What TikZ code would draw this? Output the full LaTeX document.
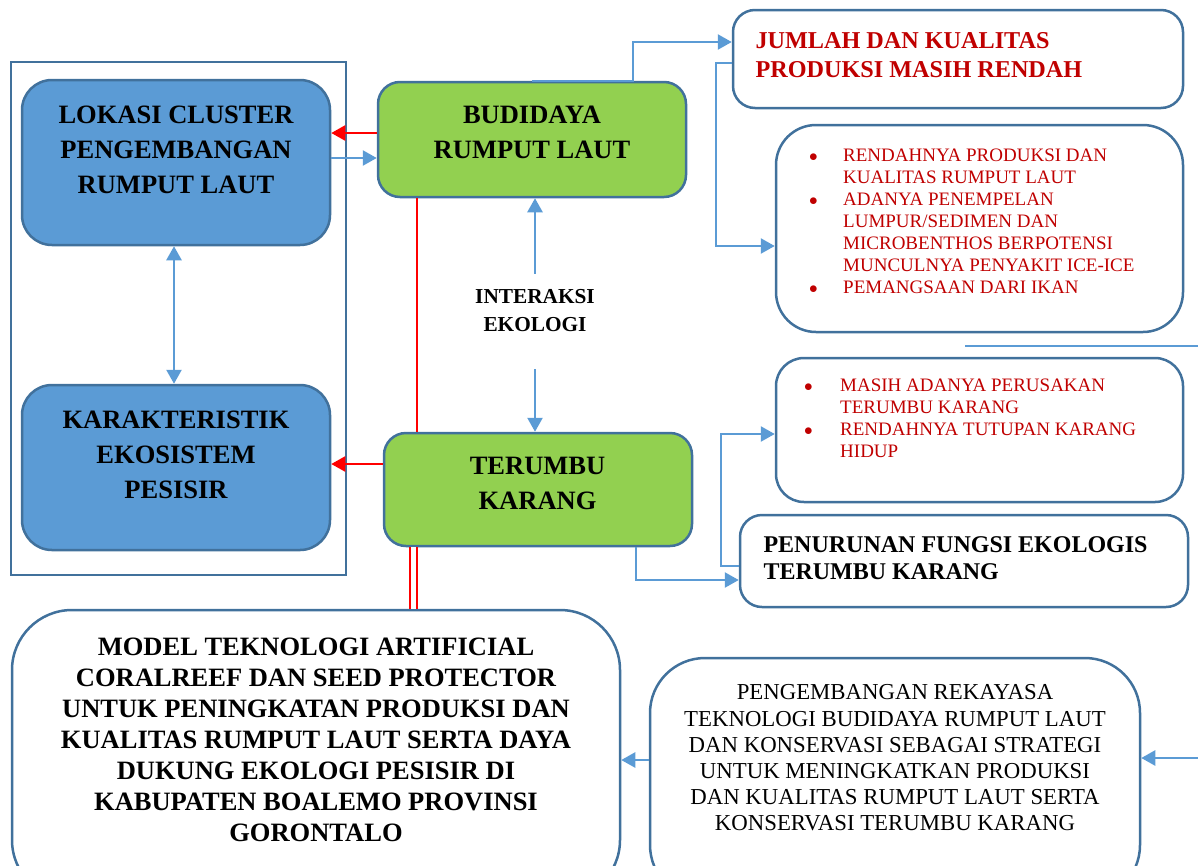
\documentclass[tikz,border=0pt]{standalone}
\usepackage{fontspec}
\setmainfont{Liberation Serif}
\usetikzlibrary{arrows.meta, positioning}
\definecolor{boxblue}{RGB}{91, 155, 213}
\definecolor{edgeblue}{RGB}{65, 113, 156}
\definecolor{boxgreen}{RGB}{146, 208, 80}
\definecolor{textred}{RGB}{192, 0, 0}

\begin{document}
\begin{tikzpicture}[x=1pt, y=-1pt,
        % Shared look of the boxes
        box/.style={draw=edgeblue, line width=2.5pt, inner sep=0pt},
        bluebox/.style={box, fill=boxblue, rounded corners=30pt, minimum width=308pt, minimum height=165pt},
        greenbox/.style={box, fill=boxgreen, rounded corners=22pt, minimum width=308pt},
        whitebox/.style={box, fill=white},
        % Texts
        title/.style={font=\bfseries\fontsize{26.5}{35}\selectfont, align=center},
        redtitle/.style={font=\bfseries\fontsize{24.2}{29}\selectfont, text=textred, align=left, anchor=west},
        bullets/.style={font=\fontsize{19}{22}\selectfont, text=textred, anchor=west, inner sep=0pt},
        % Connectors
        blueline/.style={draw=boxblue, line width=2.5pt},
        bluearrow/.style={blueline, -{Triangle[length=14pt, width=15pt]}},
        redline/.style={draw=red, line width=2.5pt},
        redarrow/.style={redline, -{Triangle[length=14pt, width=15pt]}}
    ]

    \useasboundingbox (0,0) rectangle (1198,865);
    \clip (0,0) rectangle (1198,865);

    % Left group
    \node[draw=edgeblue, line width=2pt, minimum width=335pt, minimum height=513pt] (frame) at (178.5,318.5) {};
    \node[bluebox] (lokasi) at (176,162.5) {};
    \node[title] (lokasitext) at (176,150) {LOKASI CLUSTER\\PENGEMBANGAN\\RUMPUT LAUT};
    \node[bluebox] (karakter) at (176,467.5) {};
    \node[title] (karaktertext) at (176,455) {KARAKTERISTIK\\EKOSISTEM\\PESISIR};

    % Middle column
    \node[greenbox, minimum height=115pt] (budidaya) at (532,139.5) {};
    \node[title] (budidayatext) at (532,132) {BUDIDAYA\\RUMPUT LAUT};
    \node[greenbox, minimum height=113pt] (terumbu) at (538,489.5) {};
    \node[title] (terumbutext) at (537.5,483) {TERUMBU\\KARANG};
    \node[font=\bfseries\fontsize{21.3}{28}\selectfont, align=center, inner xsep=2pt, inner ysep=16pt] (interaksi) at (535,311) {INTERAKSI\\EKOLOGI};

    % Right column
    \node[whitebox, rounded corners=22pt, minimum width=450pt, minimum height=98pt] (jumlah) at (958,59) {};
    \node[redtitle] (jumlahtext) at (752,55) {JUMLAH DAN KUALITAS\\PRODUKSI MASIH RENDAH};
    \node[whitebox, rounded corners=40pt, minimum width=407pt, minimum height=207pt] (masalaha) at (979.5,228.5) {};
    \node[bullets] (masalahatext) at (809,223) {%
        \begin{tabular}{@{}p{34pt}@{}l@{}}
            $\bullet$ & RENDAHNYA PRODUKSI DAN\\
                      & KUALITAS RUMPUT LAUT\\
            $\bullet$ & ADANYA PENEMPELAN\\
                      & LUMPUR/SEDIMEN DAN\\
                      & MICROBENTHOS BERPOTENSI\\
                      & MUNCULNYA PENYAKIT ICE-ICE\\
            $\bullet$ & PEMANGSAAN DARI IKAN
        \end{tabular}};
    \node[whitebox, rounded corners=28pt, minimum width=407pt, minimum height=144pt] (masalahb) at (979.5,430) {};
    \node[bullets] (masalahbtext) at (804,420) {%
        \begin{tabular}{@{}p{36pt}@{}l@{}}
            $\bullet$ & MASIH ADANYA PERUSAKAN\\
                      & TERUMBU KARANG\\
            $\bullet$ & RENDAHNYA TUTUPAN KARANG\\
                      & HIDUP
        \end{tabular}};
    \node[whitebox, rounded corners=22pt, minimum width=448pt, minimum height=92pt] (penurunan) at (964,561) {};
    \node[font=\bfseries\fontsize{24}{27}\selectfont, align=left, anchor=west] (penurunantext) at (760,558) {PENURUNAN FUNGSI EKOLOGIS\\TERUMBU KARANG};

    % Bottom row
    \node[whitebox, rounded corners=60pt, minimum width=608pt, minimum height=290pt] (model) at (316,755) {};
    \node[font=\bfseries\fontsize{26.5}{31}\selectfont, align=center] (modeltext) at (316,740) {MODEL TEKNOLOGI ARTIFICIAL\\CORALREEF DAN SEED PROTECTOR\\UNTUK PENINGKATAN PRODUKSI DAN\\KUALITAS RUMPUT LAUT SERTA DAYA\\DUKUNG EKOLOGI PESISIR DI\\KABUPATEN BOALEMO PROVINSI\\GORONTALO};
    \node[whitebox, rounded corners=55pt, minimum width=490pt, minimum height=242pt] (pengembangan) at (895,779) {};
    \node[font=\fontsize{22.8}{26.2}\selectfont, align=center] (pengembangantext) at (895,758) {PENGEMBANGAN REKAYASA\\TEKNOLOGI BUDIDAYA RUMPUT LAUT\\DAN KONSERVASI SEBAGAI STRATEGI\\UNTUK MENINGKATKAN PRODUKSI\\DAN KUALITAS RUMPUT LAUT SERTA\\KONSERVASI TERUMBU KARANG};

    % Free ends on the right edge
    \coordinate (edgeline) at (965,346);
    \coordinate (edgein) at (1198,758);

    % Red connectors
    \draw[redarrow] ([yshift=6.5pt]budidaya.west) coordinate (ra) -- (ra -| lokasi.east);
    \draw[redarrow] ([yshift=25.5pt]terumbu.west) coordinate (rb) -- (rb -| karakter.east);
    \draw[redline] ([xshift=-115pt]budidaya.south) coordinate (rc) -- (rc |- terumbu.north);
    \draw[draw=red, line width=2pt, double=white, double distance=5pt] ([xshift=-124.5pt]terumbu.south) coordinate (rd) -- (rd |- model.north);

    % Blue connectors
    \draw[bluearrow] ([yshift=4.5pt]lokasi.east) coordinate (ba) -- (ba -| budidaya.west);
    \draw[blueline, {Triangle[length=14pt, width=15pt]}-{Triangle[length=14pt, width=15pt]}] ([xshift=-2pt]lokasi.south) -- ([xshift=-2pt]karakter.north);
    \draw[bluearrow] (interaksi.north) -- (interaksi.north |- budidaya.south);
    \draw[bluearrow] ([yshift=-21pt]interaksi.south) coordinate (ib) -- (ib |- terumbu.north);
    \draw[bluearrow] (budidaya.north) -- ++(101,0) |- ([yshift=17pt]jumlah.west);
    \draw[bluearrow] ([yshift=-4pt]jumlah.west) -- ++(-16,0) |- ([yshift=-17.5pt]masalaha.west);
    \draw[bluearrow] ([xshift=98pt]terumbu.south) |- ([yshift=-19pt]penurunan.west);
    \draw[bluearrow] ([yshift=-5pt]penurunan.west) -- ++(-18,0) |- ([yshift=-4pt]masalahb.west);
    \draw[blueline] (edgeline) -- (edgeline -| edgein);
    \draw[bluearrow] (edgein) -- (edgein -| pengembangan.east);
    \draw[bluearrow] ([yshift=19pt]pengembangan.west) coordinate (bb) -- (bb -| model.east);

\end{tikzpicture}
\end{document}
